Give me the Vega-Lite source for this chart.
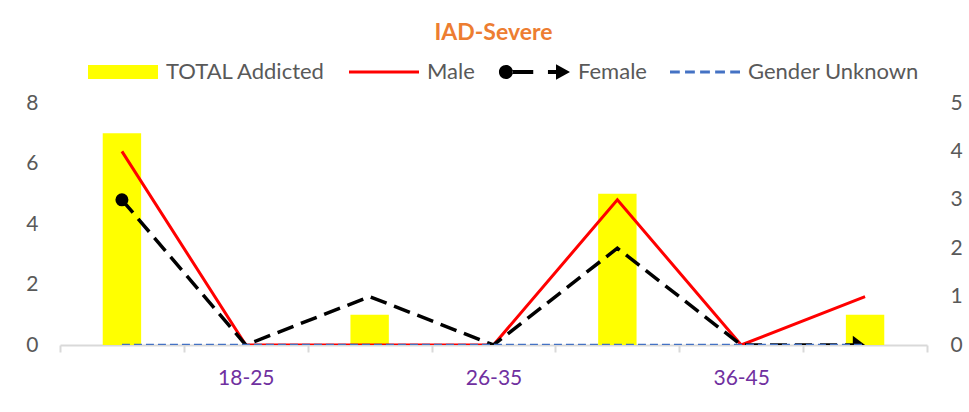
{
  "$schema": "https://vega.github.io/schema/vega-lite/v6.json",
  "width": 867,
  "height": 242,
  "autosize": {"type": "none"},
  "padding": {"left": 60, "top": 103, "right": 42, "bottom": 67},
  "background": "white",
  "title": {
    "text": "IAD-Severe",
    "color": "#ed7d31",
    "font": "Lato",
    "fontSize": 23,
    "fontWeight": "bold",
    "anchor": "middle",
    "offset": -8
  },
  "config": {
    "view": {"stroke": null},
    "axis": {"labelFont": "Lato", "labelFontSize": 21, "title": null, "grid": false}
  },
  "data": {
    "values": [
      {"slot": 1, "series": "TOTAL Addicted", "value": 7},
      {"slot": 2, "series": "TOTAL Addicted", "value": 0},
      {"slot": 3, "series": "TOTAL Addicted", "value": 1},
      {"slot": 4, "series": "TOTAL Addicted", "value": 0},
      {"slot": 5, "series": "TOTAL Addicted", "value": 5},
      {"slot": 6, "series": "TOTAL Addicted", "value": 0},
      {"slot": 7, "series": "TOTAL Addicted", "value": 1},
      {"slot": 1, "series": "Male", "value": 4},
      {"slot": 2, "series": "Male", "value": 0},
      {"slot": 3, "series": "Male", "value": 0},
      {"slot": 4, "series": "Male", "value": 0},
      {"slot": 5, "series": "Male", "value": 3},
      {"slot": 6, "series": "Male", "value": 0},
      {"slot": 7, "series": "Male", "value": 1},
      {"slot": 1, "series": "Female", "value": 3},
      {"slot": 2, "series": "Female", "value": 0},
      {"slot": 3, "series": "Female", "value": 1},
      {"slot": 4, "series": "Female", "value": 0},
      {"slot": 5, "series": "Female", "value": 2},
      {"slot": 6, "series": "Female", "value": 0},
      {"slot": 7, "series": "Female", "value": 0},
      {"slot": 1, "series": "Gender Unknown", "value": 0},
      {"slot": 2, "series": "Gender Unknown", "value": 0},
      {"slot": 3, "series": "Gender Unknown", "value": 0},
      {"slot": 4, "series": "Gender Unknown", "value": 0},
      {"slot": 5, "series": "Gender Unknown", "value": 0},
      {"slot": 6, "series": "Gender Unknown", "value": 0},
      {"slot": 7, "series": "Gender Unknown", "value": 0}
    ]
  },
  "encoding": {
    "x": {
      "field": "slot",
      "type": "ordinal",
      "scale": {"type": "band", "paddingInner": 0, "paddingOuter": 0},
      "axis": {
        "labelAngle": 0,
        "tickBand": "extent",
        "domainColor": "#d9d9d9",
        "domainWidth": 2,
        "tickColor": "#d9d9d9",
        "tickWidth": 2,
        "tickSize": 7,
        "labelColor": "#7030a0",
        "labelPadding": 15,
        "labelExpr": "datum.value == 2 ? '18-25' : datum.value == 4 ? '26-35' : datum.value == 6 ? '36-45' : ''"
      }
    }
  },
  "layer": [
    {
      "transform": [{"filter": "datum.series === 'TOTAL Addicted'"}],
      "mark": {"type": "bar", "width": {"band": 0.31}},
      "encoding": {
        "y": {
          "field": "value",
          "type": "quantitative",
          "scale": {"domain": [0, 8]},
          "axis": {
            "orient": "left",
            "values": [0, 2, 4, 6, 8],
            "domain": false,
            "ticks": false,
            "labelColor": "#595959",
            "labelPadding": 22
          }
        },
        "color": {
          "field": "series",
          "type": "nominal",
          "scale": {
            "domain": ["TOTAL Addicted", "Male", "Female", "Gender Unknown"],
            "range": ["#ffff00", "#ff0000", "#000000", "#4472c4"]
          },
          "legend": {
            "orient": "none",
            "legendX": 28,
            "legendY": -66,
            "direction": "horizontal",
            "title": null,
            "symbolSize": 4900,
            "symbolStrokeWidth": 0,
            "labelFont": "Lato",
            "labelFontSize": 22,
            "labelColor": "#595959",
            "labelOffset": 8,
            "labelLimit": 400,
            "columnPadding": 23,
            "encode": {
              "symbols": {
                "update": {
                  "shape": {
                    "signal": "datum.value === 'TOTAL Addicted' ? 'M-1,-0.2H1V0.2H-1Z' : datum.value === 'Male' ? 'M-1,-0.045H1V0.045H-1Z' : datum.value === 'Female' ? 'M-1.03,0A0.2,0.2,0,1,0,-0.63,0A0.2,0.2,0,1,0,-1.03,0Z M-0.64,-0.06H-0.05V0.06H-0.64Z M0.37,-0.06H0.68V0.06H0.37Z M0.6,-0.22L1,0L0.6,0.22Z' : 'M-1,-0.045H-0.72V0.045H-1Z M-0.57,-0.045H-0.29V0.045H-0.57Z M-0.14,-0.045H0.14V0.045H-0.14Z M0.29,-0.045H0.57V0.045H0.29Z M0.72,-0.045H1V0.045H0.72Z'"
                  },
                  "fill": {"scale": "color", "field": "value"},
                  "stroke": {"value": "transparent"},
                  "opacity": {"value": 1}
                }
              }
            }
          }
        }
      }
    },
    {
      "encoding": {
        "y": {
          "field": "value",
          "type": "quantitative",
          "scale": {"domain": [0, 5]},
          "axis": {
            "orient": "right",
            "values": [0, 1, 2, 3, 4, 5],
            "domain": false,
            "ticks": false,
            "labelColor": "#595959",
            "labelPadding": 23
          }
        }
      },
      "layer": [
        {
          "transform": [{"filter": "datum.series === 'Male'"}],
          "mark": {"type": "line", "strokeWidth": 3, "clip": true},
          "encoding": {"color": {"field": "series", "type": "nominal"}}
        },
        {
          "transform": [{"filter": "datum.series === 'Female'"}],
          "mark": {"type": "line", "strokeWidth": 3.5, "strokeDash": [17, 8], "clip": true},
          "encoding": {"color": {"field": "series", "type": "nominal"}}
        },
        {
          "transform": [{"filter": "datum.series === 'Female' && datum.slot === 1"}],
          "mark": {"type": "point", "shape": "circle", "filled": true, "size": 170, "opacity": 1, "color": "#000000"},
          "encoding": {}
        },
        {
          "transform": [{"filter": "datum.series === 'Female' && datum.slot === 7"}],
          "mark": {"type": "point", "shape": "M-1,-0.75L0,0L-1,0.75Z", "filled": true, "size": 600, "opacity": 1, "color": "#000000", "clip": true},
          "encoding": {}
        },
        {
          "transform": [{"filter": "datum.series === 'Gender Unknown'"}],
          "mark": {"type": "line", "strokeWidth": 2.5, "strokeDash": [8, 4], "clip": true},
          "encoding": {"color": {"field": "series", "type": "nominal"}}
        }
      ]
    }
  ],
  "resolve": {"scale": {"y": "independent"}}
}
